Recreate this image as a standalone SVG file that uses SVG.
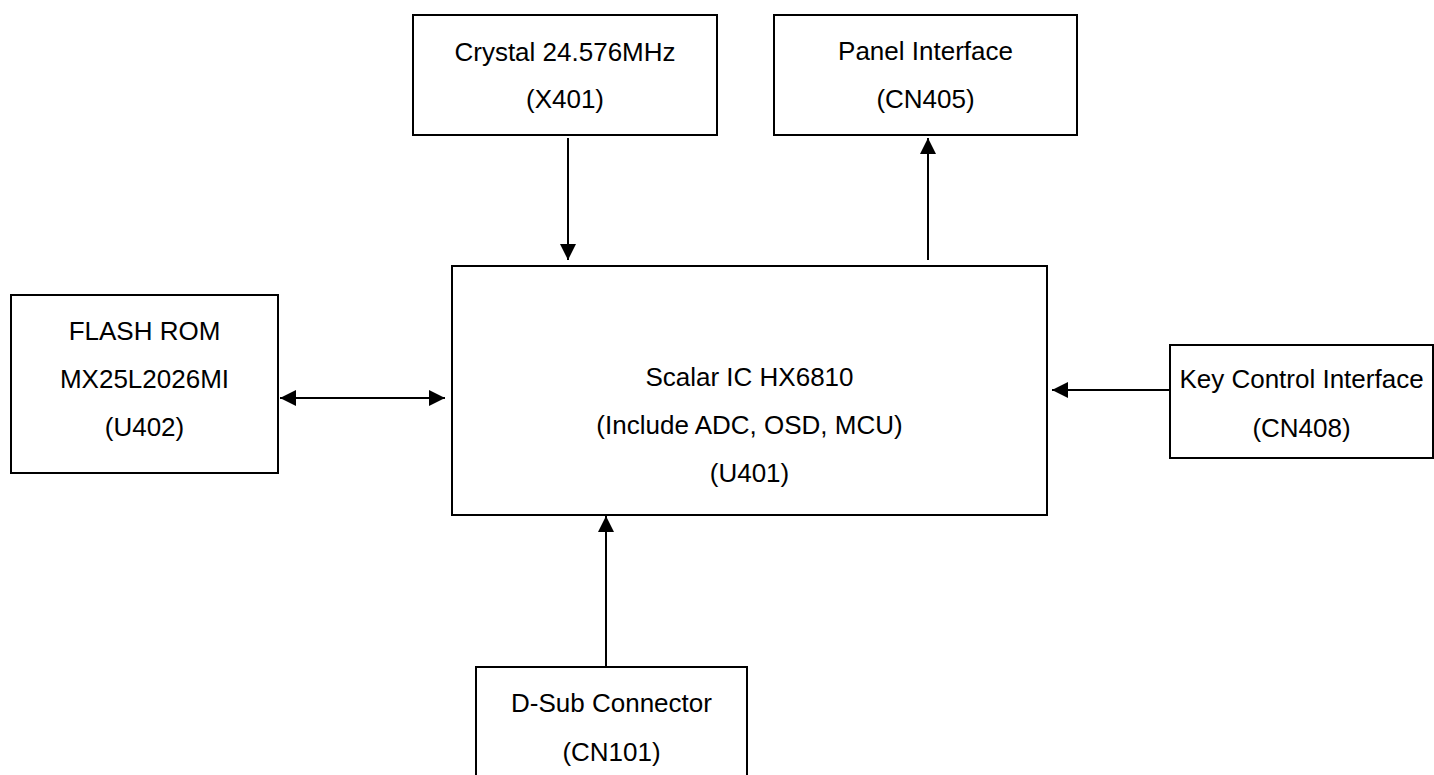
<svg xmlns="http://www.w3.org/2000/svg" width="1434" height="775" viewBox="0 0 1434 775">
<style>
.box{fill:#fff;stroke:#000;stroke-width:2}
.t{font-family:"Liberation Sans",Arial,sans-serif;font-size:26px;fill:#000;text-anchor:middle}
.c{stroke:#000;stroke-width:2;fill:none}
</style>
<defs>
<marker id="ah" markerUnits="userSpaceOnUse" markerWidth="16" markerHeight="16" viewBox="0 0 16 16" refX="16" refY="8" orient="auto-start-reverse">
<path d="M0,0 L16,8 L0,16 z" fill="#000"/>
</marker>
</defs>
<rect width="1434" height="775" fill="#fff"/>
<g id="crystal">
<rect class="box" x="413" y="15" width="304" height="120"/>
<text class="t" x="565" y="61">Crystal 24.576MHz</text>
<text class="t" x="565" y="108">(X401)</text>
</g>
<g id="panel">
<rect class="box" x="774" y="15" width="303" height="120"/>
<text class="t" x="925.5" y="60">Panel Interface</text>
<text class="t" x="925.5" y="108">(CN405)</text>
</g>
<g id="scalar">
<rect class="box" x="452" y="266" width="595" height="249"/>
<text class="t" x="749.5" y="386">Scalar IC HX6810</text>
<text class="t" x="749.5" y="434">(Include ADC, OSD, MCU)</text>
<text class="t" x="749.5" y="482">(U401)</text>
</g>
<g id="flash">
<rect class="box" x="11" y="295" width="267" height="178"/>
<text class="t" x="144.5" y="340">FLASH ROM</text>
<text class="t" x="144.5" y="388">MX25L2026MI</text>
<text class="t" x="144.5" y="436">(U402)</text>
</g>
<g id="key">
<rect class="box" x="1170" y="345" width="263" height="113"/>
<text class="t" x="1301.5" y="388">Key Control Interface</text>
<text class="t" x="1301.5" y="437">(CN408)</text>
</g>
<g id="dsub">
<rect class="box" x="476" y="667" width="271" height="130"/>
<text class="t" x="611.5" y="712">D-Sub Connector</text>
<text class="t" x="611.5" y="761">(CN101)</text>
</g>
<g id="connectors">
<line class="c" x1="568" y1="138" x2="568" y2="260" marker-end="url(#ah)"/>
<line class="c" x1="928" y1="260" x2="928" y2="138" marker-end="url(#ah)"/>
<line class="c" x1="280" y1="398" x2="445" y2="398" marker-start="url(#ah)" marker-end="url(#ah)"/>
<line class="c" x1="1170" y1="390" x2="1052" y2="390" marker-end="url(#ah)"/>
<line class="c" x1="606" y1="667" x2="606" y2="516" marker-end="url(#ah)"/>
</g>
</svg>
